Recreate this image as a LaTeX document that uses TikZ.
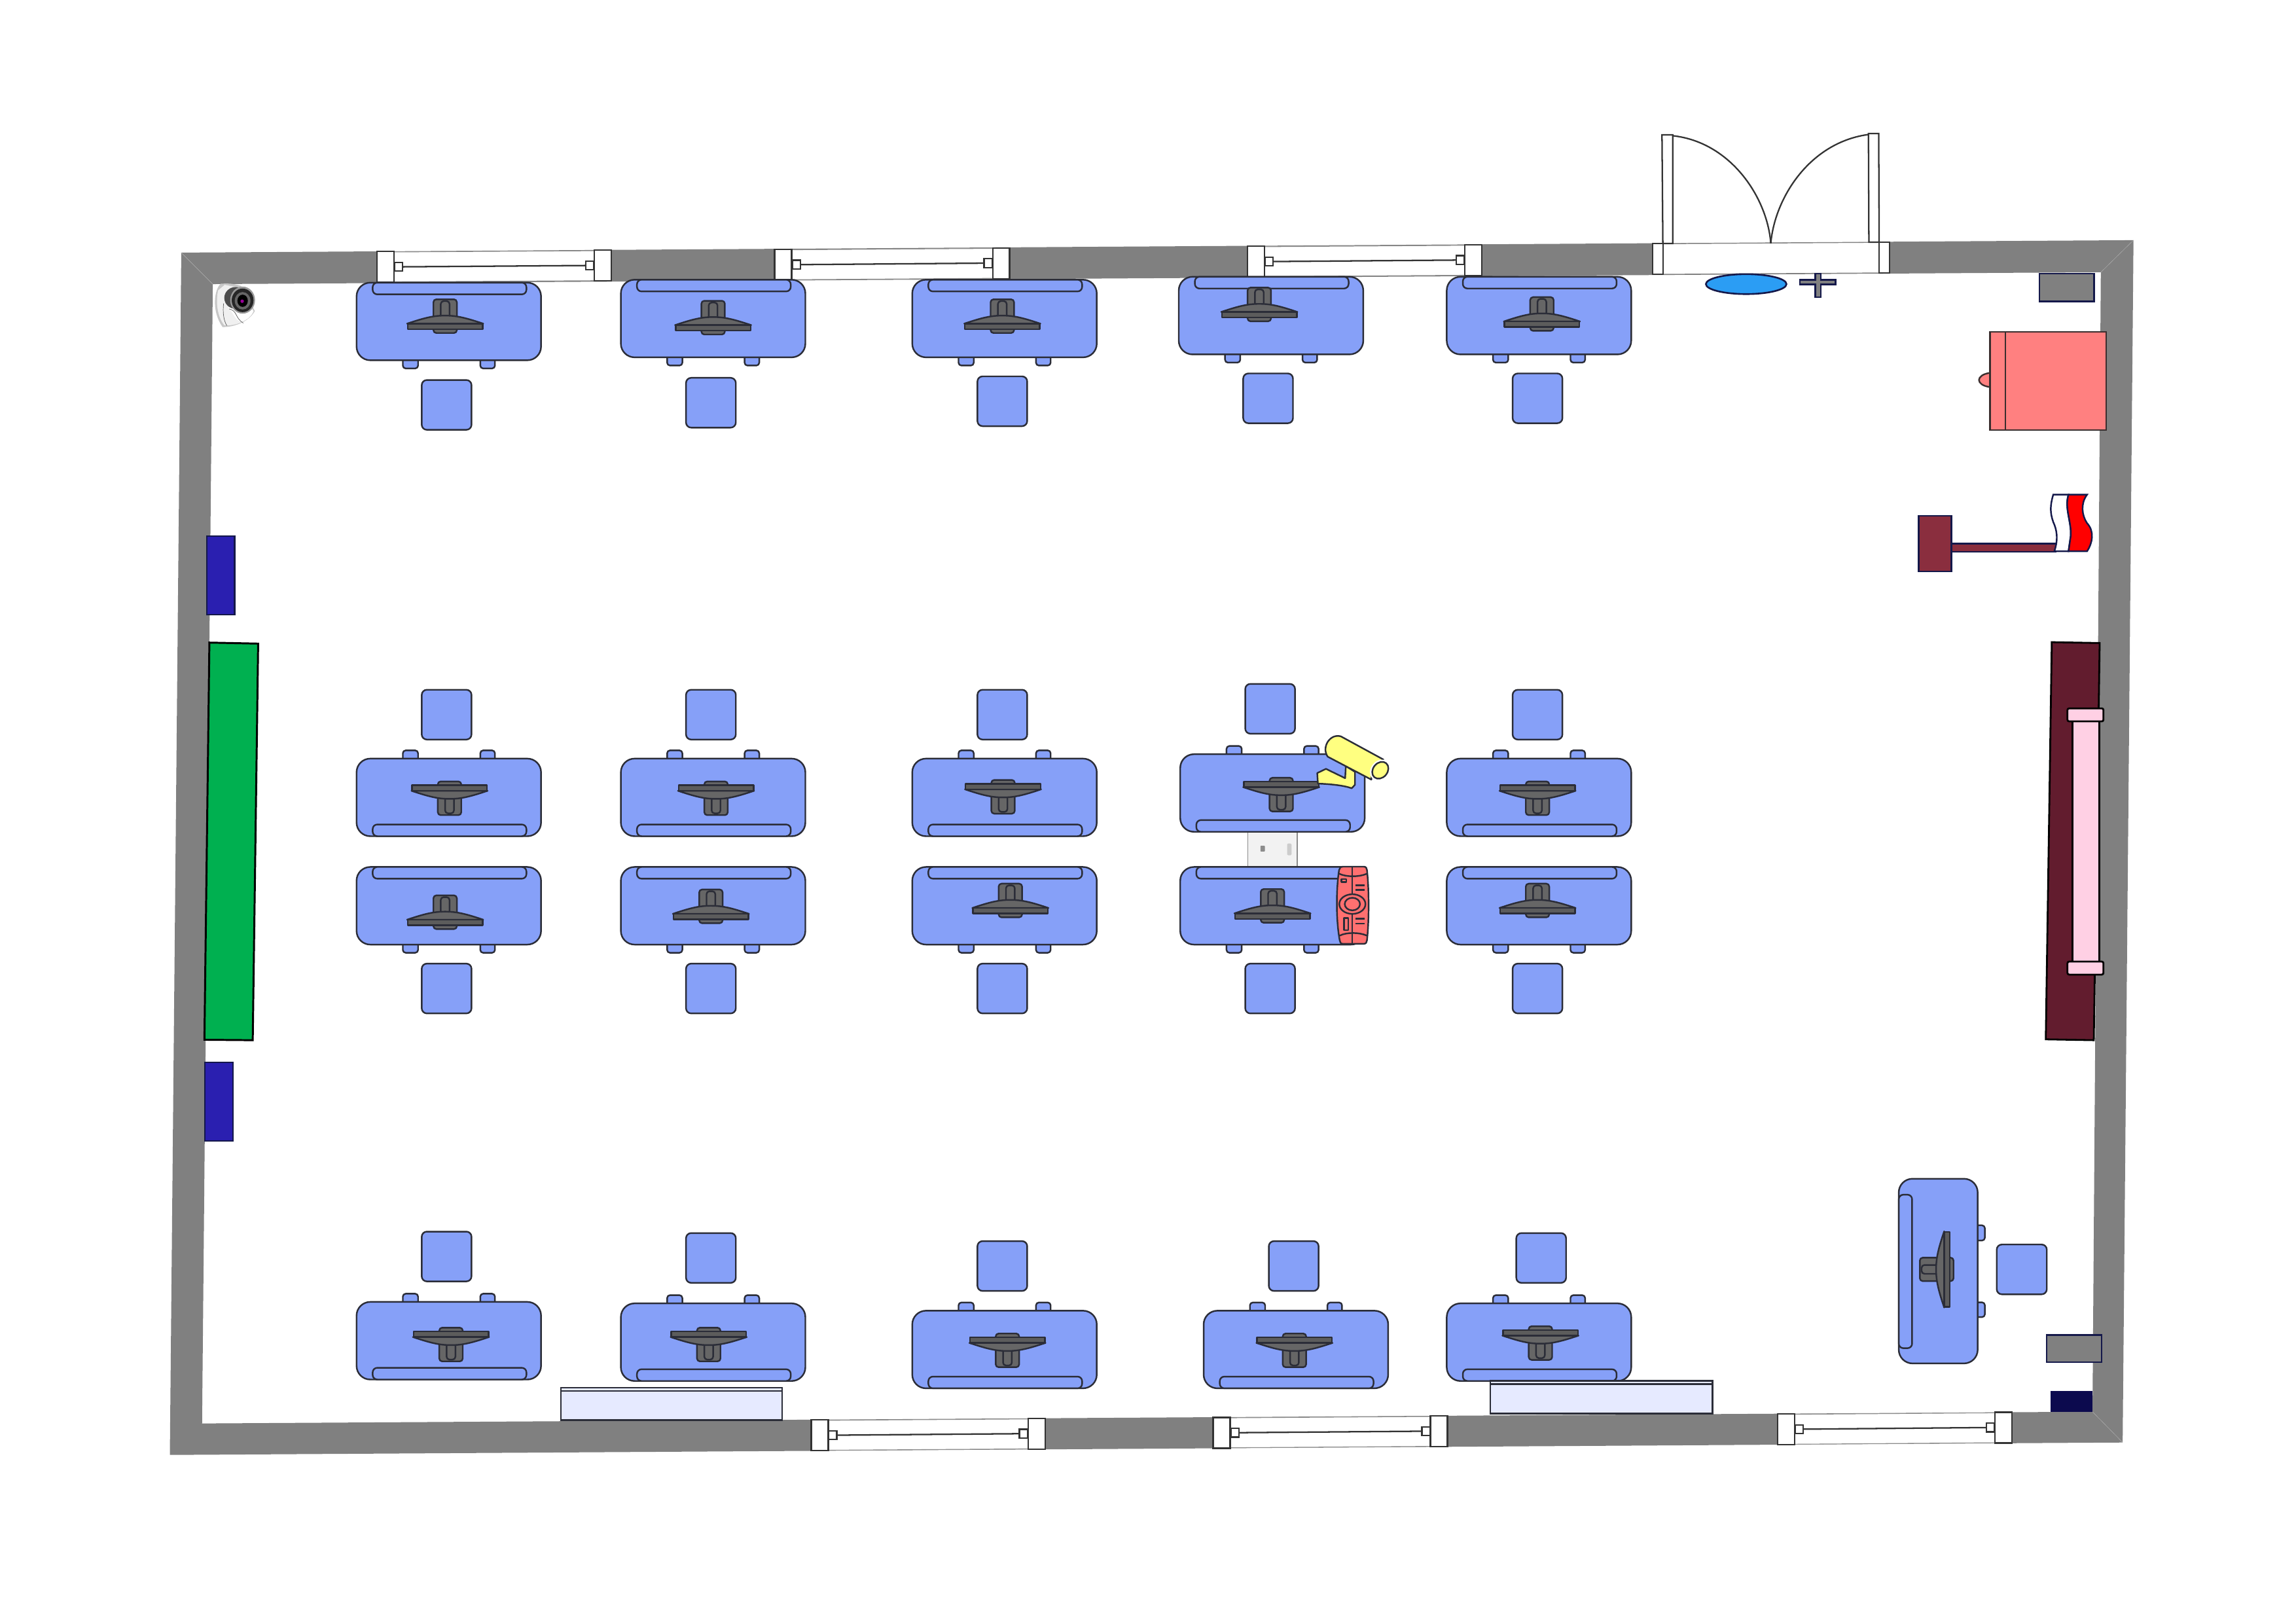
\documentclass[tikz,border=0pt]{standalone}
\usetikzlibrary{calc}
\definecolor{wallc}{HTML}{808080}
\definecolor{deskc}{HTML}{86A0F8}
\definecolor{inkc}{HTML}{2B2D38}
\definecolor{monc}{HTML}{666666}
\definecolor{navyc}{HTML}{14184A}
\definecolor{yellowc}{HTML}{FFFF80}
\definecolor{remotec}{HTML}{FF7070}
\definecolor{cabc}{HTML}{FF8080}
\definecolor{cabline}{HTML}{3A2E2E}
\definecolor{flagc}{HTML}{8A2E3E}
\definecolor{maroonc}{HTML}{621C2E}
\definecolor{pinkc}{HTML}{FFD0E4}
\definecolor{greenc}{HTML}{00B050}
\definecolor{panelc}{HTML}{2A1FB0}
\definecolor{radc}{HTML}{E6EAFF}
\definecolor{ovalc}{HTML}{2B9DF4}
\definecolor{darknavy}{HTML}{0C0A4E}
\tikzset{
 ink/.style={draw=inkc,line width=1.4pt,line join=round},
 deskbox/.style={ink,fill=deskc},
 mon/.style={ink,fill=monc},
 jamb/.style={draw=black!80,line width=1.3pt,fill=white},
 graybox/.style={draw=navyc,line width=1.5pt,fill=wallc},
 radbox/.style={draw=inkc,line width=1.5pt,fill=radc},
}
% monitor: origin = centre of plate edge on the screen side
\newcommand{\monitor}[3]{%
 \begin{scope}[shift={(#1,#2)},#3]
  \draw[mon,rounded corners=2.5] (-8,6.4) rectangle (8,-16.6);
  \draw[mon,rounded corners=2.5] (-3,-4) -- (-3,-15.4) -- (3,-15.4) -- (3,-4);
  \draw[mon,fill=monc] (-26,0) .. controls (-14,-4) and (-8,-5.5) .. (0,-5.5) .. controls (8,-5.5) and (14,-4) .. (26,0) -- cycle;
  \draw[mon,fill=monc!90!black] (-25.6,0) rectangle (25.6,3.8);
 \end{scope}}
% desk with chair below (bar on top)
\newcommand{\deskb}[6]{%
 \draw[deskbox,rounded corners=2.5] (#1+31.6,#2+50) rectangle (#1+42,#2+58.6);
 \draw[deskbox,rounded corners=2.5] (#1+84.5,#2+50) rectangle (#1+94.5,#2+58.6);
 \draw[deskbox,rounded corners=12] (#1,#2) rectangle (#1+126,#2+53);
 \draw[deskbox,rounded corners=4] (#1+11,#2) rectangle (#1+116,#2+8);
 \monitor{#3}{#4}{};
 \draw[deskbox,rounded corners=4.5] (#5,#6) rectangle ++(34,34);}
% desk with chair above (bar below)
\newcommand{\deska}[6]{%
 \draw[deskbox,rounded corners=2.5] (#1+31.6,#2-5.6) rectangle (#1+42,#2+3);
 \draw[deskbox,rounded corners=2.5] (#1+84.5,#2-5.6) rectangle (#1+94.5,#2+3);
 \draw[deskbox,rounded corners=12] (#1,#2) rectangle (#1+126,#2+53);
 \draw[deskbox,rounded corners=4] (#1+11,#2+45) rectangle (#1+116,#2+53);
 \monitor{#3}{#4}{yscale=-1};
 \draw[deskbox,rounded corners=4.5] (#5,#6) rectangle ++(34,34);}
\newcommand{\windowunit}[4]{%
 \fill[white] (#1+6,#2+.3) -- (#3-6,#4+.3) -- (#3-6,#4+20.7) -- (#1+6,#2+20.7) -- cycle;
 \draw[black!45,line width=.6pt] (#1+6,#2+.3) -- (#3-6,#4+.3) (#1+6,#2+20.7) -- (#3-6,#4+20.7);
 \draw[jamb] (#1+12,#2+7.4) rectangle (#1+17.5,#2+13.4);
 \draw[jamb] (#3-12,#4+7.4) rectangle (#3-17.5,#4+13.4);
 \draw[black!80,line width=1.3pt] (#1+17.5,#2+10.4) -- (#3-17.5,#4+10.4);
 \draw[jamb] (#1,#2) rectangle (#1+11.6,#2+21);
 \draw[jamb] (#3-11.6,#4) rectangle (#3,#4+21);}
\begin{document}
\begin{tikzpicture}[x=0.45mm,y=-0.45mm]
\useasboundingbox (0,0) rectangle (1568,1108.6);
\fill[white] (0,0) rectangle (1568,1108.6);
% walls
\fill[wallc,even odd rule] (123.8,172.5) -- (1457,164) -- (1449.6,985) -- (116,993.5) -- cycle
  (145.3,194) -- (138,972) -- (1429,964) -- (1434.7,185.9) -- cycle;
\draw[black!30,line width=.25pt] (123.8,172.5) -- (145.3,194) (1457,164) -- (1434.7,185.9)
  (1449.6,985) -- (1429,964);
% windows
\windowunit{257.5}{171.8}{417.6}{170.9}
\windowunit{529}{170.3}{689.5}{169.3}
\windowunit{852}{168.2}{1012}{167.2}
\windowunit{554}{969.6}{713.7}{968.6}
\windowunit{828.5}{967.9}{988.5}{966.9}
\windowunit{1214}{965.5}{1374}{964.4}
% door
\fill[white] (1132,166.5) -- (1287,165.5) -- (1287,186.3) -- (1132,187.3) -- cycle;
\draw[black!50,line width=.6pt] (1132,166.5) -- (1287,165.5) (1132,187.3) -- (1287,186.3);
\draw[jamb] (1128.5,166.3) rectangle (1135.8,187.4);
\draw[jamb] (1283.2,165.4) rectangle (1290.5,186.3);
\draw[jamb] (1135,92.1) -- (1142.4,92.1) -- (1142.4,166.3) -- (1135.6,166.3) -- cycle;
\draw[jamb] (1276,91.2) -- (1283,91.2) -- (1283.3,165.4) -- (1276.3,165.4) -- cycle;
\draw[black!80,line width=1.3pt] (1142.4,92.7) .. controls (1182,97) and (1207,135) .. (1209.3,166.2);
\draw[black!80,line width=1.3pt] (1276.4,91.8) .. controls (1236,97) and (1212,135) .. (1209.3,166.2);
\draw[draw=navyc,line width=1.5pt,fill=ovalc] (1192.5,194) ellipse (27.5 and 6.8);
% cross
\draw[draw=navyc,line width=1.5pt,fill=gray] (1239.6,186.8) -- (1243.4,186.8) -- (1243.4,191.2) -- (1253.6,191.2) -- (1253.6,194.2) -- (1243.4,194.2) -- (1243.4,203) -- (1239.6,203) -- (1239.6,194.2) -- (1229.2,194.2) -- (1229.2,191.2) -- (1239.6,191.2) -- cycle;
\draw[graybox] (1392.7,186.9) rectangle (1430.2,205.7);
\draw[graybox] (1397.6,911.7) rectangle (1435.2,930.2);
\fill[darknavy] (1400.4,950) rectangle (1429,964);
% left wall items
\draw[draw=navyc,line width=1.4pt,fill=panelc] (141.2,366) -- (160.2,366) -- (160.2,419.8) -- (141.2,419.8) -- cycle;
\draw[draw=navyc,line width=1.4pt,fill=panelc] (140,725.5) -- (159,725.5) -- (159,779) -- (140,779) -- cycle;
\draw[draw=black,line width=1.7pt,fill=greenc] (143,438.8) -- (176.3,439.5) -- (172.6,710.3) -- (139.6,710) -- cycle;
% camera
\begin{scope}[shift={(134.1,187.8)},x=.06706mm,y=-.06706mm]
 \fill[black!22] (112,40) .. controls (85,60) and (65,160) .. (120,238) .. controls (170,240) and (240,215) .. (268,165) -- (205,50) .. controls (170,38) and (140,38) .. (112,40) -- cycle;
 \fill[black!6] (100,70) .. controls (88,120) and (95,190) .. (128,230) .. controls (180,235) and (240,210) .. (262,165) -- (205,60) -- (130,45) -- cycle;
 \fill[white] (145,150) .. controls (170,170) and (170,200) .. (205,215) .. controls (235,205) and (255,185) .. (262,165) -- (200,120) -- cycle;
 \draw[black!65,line width=.4pt] (125,130) .. controls (120,170) and (125,210) .. (140,232);
 \draw[black!65,line width=.4pt] (150,155) .. controls (190,165) and (175,195) .. (215,220);
 \fill[black!70] (180,105) ellipse (52 and 50);
 \fill[black!40] (212,115) ellipse (57 and 62);
 \fill[black!85] (212,116) ellipse (50 and 54);
 \fill[black!60] (212,118) ellipse (36 and 40);
 \fill[black] (212,118) ellipse (24 and 28);
 \fill[violet!80!magenta] (210,120) circle (8);
\end{scope}
% gray box between desks (drawn first)
\fill[black!5] (852.2,560) rectangle (885.8,600);
\draw[black!45,line width=1pt] (852.2,560) -- (852.2,600) (885.8,560) -- (885.8,600);
\fill[black!45,rounded corners=.5] (860.8,577.5) rectangle (863.8,581.5);
\fill[black!20,rounded corners=.8] (879,576) rectangle (882,584);
% rows
\deskb{243.5}{193}{304}{221}{288}{259.5}
\deskb{424}{191}{487}{222}{468.5}{258}
\deskb{623}{191}{684.5}{221}{667.5}{257}
\deskb{805}{189}{860}{213}{849}{255}
\deskb{988}{189}{1053}{219.5}{1033}{255}
\deska{243.5}{518}{307}{540}{288}{471}
\deska{424}{518}{489}{540}{468.5}{471}
\deska{623}{518}{685}{539}{667.5}{471}
\deska{806}{515}{875}{537.5}{850.4}{467}
\deska{988}{518}{1050}{540}{1033}{471}
\deskb{243.5}{592}{304}{628}{288}{658}
\deskb{424}{592}{485.5}{624}{468.5}{658}
\deskb{623}{592}{690}{620}{667.5}{658}
\deskb{806}{592}{869}{623.7}{850.4}{658}
\deskb{988}{592}{1050}{620}{1033}{658}
\deska{243.5}{889}{308}{913}{288}{841}
\deska{424}{890}{484}{913}{468.5}{842}
\deska{623}{895}{688}{917}{667.5}{847.5}
\deska{822}{895}{884}{917}{866.5}{847.5}
\deska{988}{890}{1052}{912}{1035.5}{842}
% teacher desk
\draw[deskbox,rounded corners=2.5] (1347,836.7) rectangle (1355.5,847.1);
\draw[deskbox,rounded corners=2.5] (1347,889.3) rectangle (1355.5,899.4);
\draw[deskbox,rounded corners=12] (1296.7,804.9) rectangle (1350.6,931);
\draw[deskbox,rounded corners=4] (1296.7,815.8) rectangle (1305.8,920.6);
\monitor{1327.7}{866.8}{rotate=90}
\draw[deskbox,rounded corners=4.5] (1363.6,849.8) rectangle ++(34.2,34);
% projector and remote
\begin{scope}[shift={(795.7,456)},x=.06706mm,y=-.07188mm]
 \draw[ink,fill=yellowc] (697,450) -- (737,432) -- (825,472) -- (828,420) -- (870,445) -- (870,500) -- (855,515) .. controls (820,503) and (760,497) .. (700,495) -- cycle;
 \draw[ink,fill=yellowc] (945,478) -- (745,380) .. controls (715,340) and (755,280) .. (805,293) -- (1000,392) .. controls (970,415) and (945,440) .. (945,478) -- cycle;
 \draw[white,line width=2.6pt,fill=white,shift={(986,438)},rotate=50] (0,0) ellipse (46 and 34);
 \draw[ink,fill=yellowc,shift={(986,438)},rotate=50] (0,0) ellipse (42 and 31);
 % remote
 \draw[ink,fill=remotec] (815,850) -- (910,850) .. controls (920,850) and (925,857) .. (925,865)
   .. controls (935,950) and (935,1080) .. (925,1165) .. controls (925,1173) and (920,1180) .. (910,1180)
   -- (815,1180) .. controls (805,1180) and (800,1173) .. (800,1165) .. controls (783,1080) and (783,950) .. (797,865)
   .. controls (797,857) and (805,850) .. (815,850) -- cycle;
 \draw[ink] (858,850) -- (858,1180);
 \draw[ink] (797,880) .. controls (830,895) and (890,895) .. (925,880);
 \draw[ink] (800,1145) .. controls (830,1130) and (890,1130) .. (925,1145);
 \draw[ink,fill=remotec] (858,1010) ellipse (60 and 42);
 \draw[ink,fill=remotec] (858,1010) ellipse (35 and 27);
 \draw[ink] (873,930) -- (913,930) (873,950) -- (913,950) (873,1073) -- (913,1073) (873,1093) -- (913,1093);
 \draw[ink] (808,903) rectangle (830,916);
 \draw[ink] (820,1070) rectangle (840,1122);
\end{scope}
% red cabinet
\draw[draw=cabline,line width=1.4pt,fill=cabc] (1359,254.6) .. controls (1349,256) and (1349,263) .. (1359,264.3) -- cycle;
\draw[draw=cabline,line width=1.4pt,fill=cabc] (1359,226.6) rectangle (1438.4,293.7);
\draw[draw=cabline,line width=1.4pt] (1369.6,226.6) -- (1369.6,293.7);
% flag
\draw[draw=navyc,line width=1.4pt,fill=flagc] (1332.6,371.2) rectangle (1404,376.8);
\draw[draw=navyc,line width=1.4pt,fill=flagc] (1310.3,352.3) rectangle (1332.6,390.3);
\begin{scope}[shift={(1296.4,152)},x=.06706mm,y=-.07188mm]
 \draw[draw=navyc,line width=1.4pt,fill=white] (710,1163) -- (780,1163) .. controls (760,1220) and (795,1280) .. (790,1340) -- (780,1405) -- (715,1405) .. controls (735,1350) and (725,1310) .. (710,1280) .. controls (695,1240) and (695,1210) .. (710,1163) -- cycle;
 \draw[draw=navyc,line width=1.4pt,fill=red] (780,1163) -- (865,1163) .. controls (835,1200) and (840,1250) .. (865,1285) .. controls (900,1320) and (890,1370) .. (865,1405) -- (780,1405) -- (790,1340) .. controls (795,1280) and (760,1220) .. (780,1163) -- cycle;
\end{scope}
% rack on right
\draw[draw=black,line width=1.6pt,fill=maroonc] (1401.2,438.5) -- (1433.9,439.1) -- (1429.9,710.3) -- (1397.1,709.7) -- cycle;
\draw[draw=black,line width=1.6pt,fill=pinkc] (1415.2,490) rectangle (1433.5,660);
\draw[draw=black,line width=1.6pt,fill=pinkc,rounded corners=1.5] (1411.9,483.7) rectangle (1436.5,492.6);
\draw[draw=black,line width=1.6pt,fill=pinkc,rounded corners=1.5] (1411.9,656.6) rectangle (1436.5,665.5);
% radiators
\draw[radbox] (383,947.6) rectangle (534.2,969.8);
\draw[inkc,line width=1.5pt] (383,949.8) -- (534.2,949.8);
\draw[radbox] (1017.8,943) rectangle (1169.5,965.3);
\draw[inkc,line width=1.5pt] (1017.8,945.2) -- (1169.5,945.2);
\end{tikzpicture}
\end{document}
